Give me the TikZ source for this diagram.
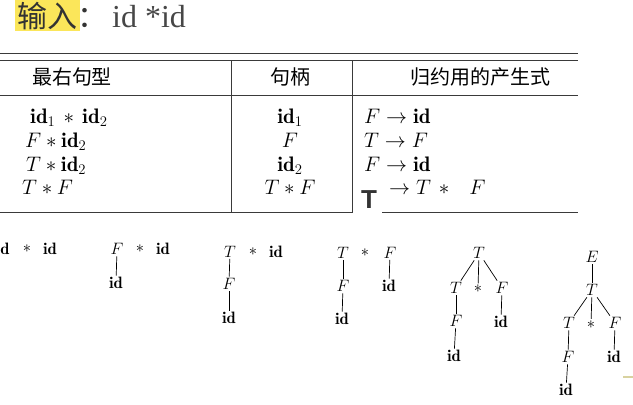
\documentclass[tikz,border=0pt]{standalone}
\usepackage{fix-cm}
\usepackage{amsmath}
\usepackage{fontspec}
\newfontfamily\cjk{Noto Sans CJK SC}
\newfontfamily\titleserif{Liberation Serif}
\newfontfamily\patchsans{Liberation Sans}
\usepackage{xcolor}
\usetikzlibrary{positioning}

\definecolor{marker}{HTML}{FBE65A}
\definecolor{ink}{HTML}{333333}
\definecolor{rulegray}{HTML}{3A3A3A}

\tikzset{
  sym/.style={inner sep=1.5pt, font=\fontsize{16.5}{18}\selectfont},
  cell/.style={inner sep=0pt, anchor=base west, font=\fontsize{21}{24}\selectfont},
  midcell/.style={inner sep=0pt, anchor=base, font=\fontsize{21}{24}\selectfont},
  hd/.style={inner sep=0pt, font=\fontsize{20}{24}\selectfont\cjk},
  branch/.style={draw, line width=0.7pt},
  tabrule/.style={draw=rulegray, line width=0.9pt}
}

\begin{document}
\begin{tikzpicture}[x=1pt,y=-1pt]
\useasboundingbox (0,0) rectangle (633,405);

% title
\fill[marker] (15,0) rectangle (80,31);
\node[inner sep=0pt, anchor=base west, text=ink, font=\fontsize{30}{32}\selectfont\cjk] (ttl) at (17,27) {输入：};
\node[inner sep=0pt, anchor=base west, text=ink!90, font=\fontsize{32}{34}\selectfont\titleserif] (inp) at (112,27) {id *id};

% table rules
\draw[tabrule, line width=0.7pt] (0,53.5)--(578,53.5);
\draw[tabrule] (0,60)--(578,60);
\draw[tabrule] (0,95)--(578,95);
\draw[tabrule] (0,212.5)--(352,212.5);
\draw[tabrule] (382,212.5)--(578,212.5);
\draw[tabrule] (231,60)--(231,212.5);
\draw[tabrule] (352,60)--(352,212.5);

% nodes
{
\node[hd] (h1) at (72,77) {最右句型};
\node[hd] (h2) at (290,77) {句柄};
\node[hd] (h3) at (480,77) {归约用的产生式};

\node[cell] (r1) at (30,123) {$\mathbf{id}_1\,\ast\,\mathbf{id}_2$};
\node[cell] (r2) at (25,147) {$F \ast \mathbf{id}_2$};
\node[cell] (r3) at (26,171) {$T \ast \mathbf{id}_2$};
\node[cell] (r4) at (22,194) {$T \ast F$};

\node[midcell] (c1) at (290,123) {$\mathbf{id}_1$};
\node[midcell] (c2) at (290,147) {$F$};
\node[midcell] (c3) at (290,171) {$\mathbf{id}_2$};
\node[midcell] (c4) at (290,194) {$T \ast F$};

\node[cell] (p1) at (364,123) {$F \rightarrow \mathbf{id}$};
\node[cell] (p2) at (364,147) {$T \rightarrow F$};
\node[cell] (p3) at (364,171) {$F \rightarrow \mathbf{id}$};
\node[inner sep=0pt, anchor=base west, text=ink, font=\fontsize{26}{28}\selectfont\patchsans\bfseries] (p4a) at (361,208) {T};
\node[cell] (p4) at (389,194) {$\rightarrow T\hspace{8pt}{\ast}\hspace{20pt}F$};
}

% tree 1
\node[sym] (a1) at (5,249) {$\mathbf{d}$};
\node[sym] (a2) at (27,249) {$\ast$};
\node[sym] (a3) at (50,249) {$\mathbf{id}$};

% tree 2
\node[sym] (b1) at (117,249) {$F$};
\node[sym] (b2) at (140,249) {$\ast$};
\node[sym] (b3) at (163,249) {$\mathbf{id}$};
\node[sym] (b4) at (116,283) {$\mathbf{id}$};
\draw[branch] (b1) -- (b4);

% tree 3
\node[sym] (t1) at (230,251.5) {$T$};
\node[sym] (t2) at (253,251.5) {$\ast$};
\node[sym] (t3) at (276,251.5) {$\mathbf{id}$};
\node[sym] (t4) at (229,284) {$F$};
\node[sym] (t5) at (229,318) {$\mathbf{id}$};
\draw[branch] (t1) -- (t4);
\draw[branch] (t4) -- (t5);

% tree 4
\node[sym] (d1) at (343,252.5) {$T$};
\node[sym] (d2) at (365,253) {$\ast$};
\node[sym] (d3) at (390,252.5) {$F$};
\node[sym] (d4) at (343,286) {$F$};
\node[sym] (d5) at (389,286) {$\mathbf{id}$};
\node[sym] (d6) at (342,319) {$\mathbf{id}$};
\draw[branch] (d1) -- (d4);
\draw[branch] (d4) -- (d6);
\draw[branch] (d3) -- (d5);

% tree 5
\node[sym] (e1) at (479,253) {$T$};
\node[sym] (e2) at (456,288) {$T$};
\node[sym] (e3) at (478,289) {$\ast$};
\node[sym] (e4) at (502,288) {$F$};
\node[sym] (e5) at (456,321) {$F$};
\node[sym] (e6) at (501,322) {$\mathbf{id}$};
\node[sym] (e7) at (454,356) {$\mathbf{id}$};
\draw[branch] (e1) -- (e2);
\draw[branch] (e1) -- (e3);
\draw[branch] (e1) -- (e4);
\draw[branch] (e2) -- (e5);
\draw[branch] (e5) -- (e7);
\draw[branch] (e4) -- (e6);

% tree 6
\node[sym] (g1) at (592,257) {$E$};
\node[sym] (g2) at (592,290) {$T$};
\node[sym] (g3) at (569,323) {$T$};
\node[sym] (g4) at (591,324.5) {$\ast$};
\node[sym] (g5) at (615,323) {$F$};
\node[sym] (g6) at (568,357) {$F$};
\node[sym] (g7) at (614,357) {$\mathbf{id}$};
\node[sym] (g8) at (566,390) {$\mathbf{id}$};
\draw[branch] (g1) -- (g2);
\draw[branch] (g2) -- (g3);
\draw[branch] (g2) -- (g4);
\draw[branch] (g2) -- (g5);
\draw[branch] (g3) -- (g6);
\draw[branch] (g6) -- (g8);
\draw[branch] (g5) -- (g7);

\draw[line width=2pt, draw={rgb,255:red,216;green,210;blue,160}] (623,377)--(633,377);

\end{tikzpicture}
\end{document}
